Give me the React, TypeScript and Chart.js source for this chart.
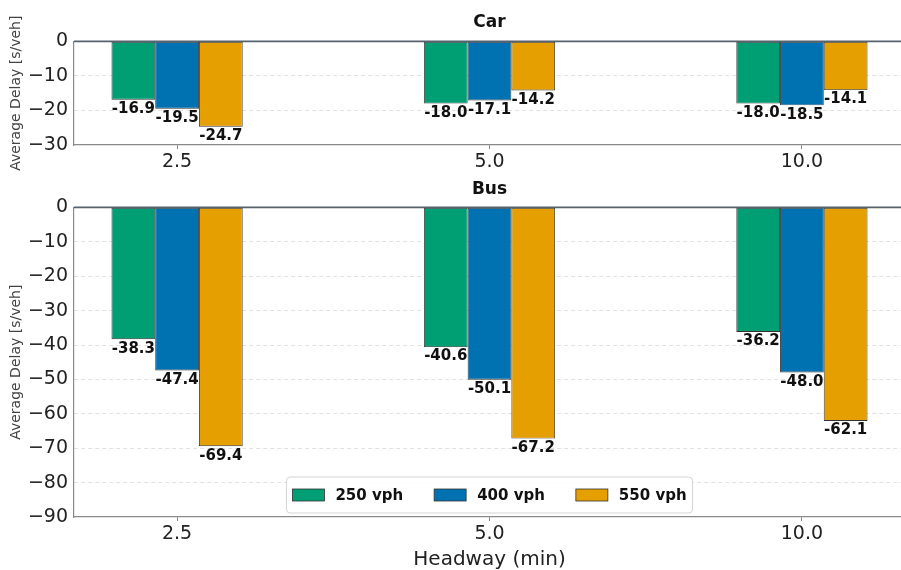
import React, { useEffect, useRef } from 'react';
import { Chart, registerables } from 'chart.js';

Chart.register(...registerables);
Chart.defaults.font.family = '"DejaVu Sans", sans-serif';

// ---------- data ----------
const headways = ['2.5', '5.0', '10.0'];
const seriesLabels = ['250 vph', '400 vph', '550 vph'];
const seriesColors = ['#009E73', '#0072B2', '#E69F00'];

const car250 = [-16.9, -18.0, -18.0];
const car400 = [-19.5, -17.1, -18.5];
const car550 = [-24.7, -14.2, -14.1];

const bus250 = [-38.3, -40.6, -36.2];
const bus400 = [-47.4, -50.1, -48.0];
const bus550 = [-69.4, -67.2, -62.1];

const carYMin = -30;
const busYMin = -90;
const yStep = 10;

// ---------- plugins ----------
const zeroLine = {
  id: 'zeroLine',
  afterDatasetsDraw(chart: any) {
    const { ctx, chartArea } = chart;
    const y = chart.scales.y.getPixelForValue(0);
    ctx.save();
    ctx.strokeStyle = '#56626d';
    ctx.lineWidth = 1.6;
    ctx.beginPath();
    ctx.moveTo(chartArea.left, y);
    ctx.lineTo(chartArea.right, y);
    ctx.stroke();
    ctx.restore();
  },
};

const valueLabels = {
  id: 'valueLabels',
  afterDatasetsDraw(chart: any) {
    const ctx = chart.ctx;
    ctx.save();
    ctx.font = 'bold 15px "DejaVu Sans"';
    ctx.fillStyle = '#111';
    ctx.textAlign = 'center';
    ctx.textBaseline = 'top';
    chart.data.datasets.forEach((ds: any, i: number) => {
      const meta = chart.getDatasetMeta(i);
      meta.data.forEach((bar: any, j: number) => {
        const v = ds.data[j].y as number;
        ctx.fillText(v.toFixed(1), bar.x, bar.y + 2);
      });
    });
    ctx.restore();
  },
};

const insideLegend = {
  id: 'insideLegend',
  afterDraw(chart: any) {
    const { ctx, chartArea } = chart;
    ctx.save();
    ctx.font = 'bold 15px "DejaVu Sans"';
    const sw = 32, sh = 12, gapT = 11, gapI = 31, pad = 6, h = 36;
    const items = chart.data.datasets.map((ds: any) => ({
      label: ds.label as string,
      color: ds.backgroundColor as string,
      w: ctx.measureText(ds.label).width,
    }));
    const total =
      items.reduce((s: number, it: any) => s + sw + gapT + it.w, 0) +
      gapI * (items.length - 1) +
      pad * 2;
    const x0 = (chartArea.left + chartArea.right) / 2 - total / 2;
    const y0 = chartArea.bottom - 4 - h;
    ctx.fillStyle = 'rgba(255,255,255,0.85)';
    ctx.strokeStyle = '#d4d4d4';
    ctx.lineWidth = 1;
    ctx.beginPath();
    ctx.roundRect(x0, y0, total, h, 4);
    ctx.fill();
    ctx.stroke();
    let x = x0 + pad;
    const cy = y0 + h / 2;
    items.forEach((it: any) => {
      ctx.fillStyle = it.color;
      ctx.fillRect(x, cy - sh / 2, sw, sh);
      ctx.strokeStyle = '#333';
      ctx.lineWidth = 0.8;
      ctx.strokeRect(x, cy - sh / 2, sw, sh);
      ctx.fillStyle = '#111';
      ctx.textAlign = 'left';
      ctx.textBaseline = 'middle';
      ctx.fillText(it.label, x + sw + gapT, cy + 1);
      x += sw + gapT + it.w + gapI;
    });
    ctx.restore();
  },
};

// ---------- config ----------
function makeConfig(
  title: string,
  series: number[][],
  yMin: number,
  titlePad: { top: number; bottom: number },
  xHeight: number,
  showXTitle: boolean,
  withLegend: boolean
): any {
  return {
    type: 'bar',
    data: {
      datasets: series.map((vals, i) => ({
        label: seriesLabels[i],
        data: vals.map((v, j) => ({ x: j, y: v })),
        backgroundColor: seriesColors[i],
        borderColor: '#333333',
        borderWidth: 0.9,
        borderSkipped: false,
        categoryPercentage: 0.42,
        barPercentage: 1.0,
      })),
    },
    options: {
      animation: false,
      responsive: false,
      devicePixelRatio: 1,
      layout: { padding: { left: 0, right: 4, top: 0, bottom: 0 } },
      plugins: {
        legend: { display: false },
        tooltip: { enabled: false },
        title: {
          display: true,
          text: title,
          fullSize: false,
          color: '#111',
          font: { size: 17, weight: 'bold' },
          padding: titlePad,
        },
      },
      scales: {
        x: {
          type: 'linear',
          min: -0.33,
          max: 2.33,
          offset: false,
          afterBuildTicks: (s: any) => {
            s.ticks = headways.map((_, i) => ({ value: i }));
          },
          ticks: {
            callback: (v: any) => headways[v] ?? '',
            font: { size: 19 },
            color: '#222',
            padding: 2,
            maxRotation: 0,
            autoSkip: false,
          },
          grid: {
            offset: false,
            drawOnChartArea: false,
            drawTicks: true,
            tickLength: 4,
            tickColor: '#888',
            tickWidth: 1,
          },
          border: { display: true, color: '#8a8a8a', width: 1.2 },
          title: showXTitle
            ? {
                display: true,
                text: 'Headway (min)',
                font: { size: 20 },
                color: '#222',
                padding: { top: 2, bottom: 0 },
              }
            : { display: false },
          afterFit: (s: any) => {
            s.height = xHeight;
          },
        },
        y: {
          min: yMin,
          max: 0,
          ticks: {
            stepSize: yStep,
            callback: (v: any) => (v < 0 ? '\u2212' + Math.abs(v) : String(v)),
            font: { size: 19 },
            color: '#222',
            padding: 6,
          },
          grid: {
            drawTicks: false,
            color: (c: any) =>
              c.tick && (c.tick.value === 0 || c.tick.value === yMin)
                ? 'rgba(0,0,0,0)'
                : '#d9d9d9',
            lineWidth: 0.8,
          },
          border: { display: true, color: '#8a8a8a', width: 1.2, dash: [4, 3] },
          title: {
            display: true,
            text: 'Average Delay [s/veh]',
            font: { size: 14 },
            color: '#444',
            padding: { top: 8, bottom: 0 },
          },
          afterFit: (s: any) => {
            s.width = 74;
          },
        },
      },
    },
    plugins: withLegend ? [zeroLine, valueLabels, insideLegend] : [zeroLine, valueLabels],
  };
}

export default function App() {
  const topRef = useRef<HTMLCanvasElement | null>(null);
  const botRef = useRef<HTMLCanvasElement | null>(null);

  useEffect(() => {
    document.body.style.margin = '0';
    document.body.style.overflow = 'hidden';
    const c1 = new Chart(
      topRef.current as HTMLCanvasElement,
      makeConfig('Car', [car250, car400, car550], carYMin, { top: 12, bottom: 9 }, 31, false, false)
    );
    const c2 = new Chart(
      botRef.current as HTMLCanvasElement,
      makeConfig('Bus', [bus250, bus400, bus550], busYMin, { top: 3, bottom: 8 }, 55, true, true)
    );
    return () => {
      c1.destroy();
      c2.destroy();
    };
  }, []);

  return (
    <div
      style={{
        position: 'fixed',
        left: 0,
        top: 0,
        width: 901,
        height: 570,
        overflow: 'hidden',
        background: '#fff',
      }}
    >
      <canvas
        ref={topRef}
        width={909}
        height={176}
        style={{ position: 'absolute', left: 0, top: 0, width: 909, height: 176 }}
      />
      <canvas
        ref={botRef}
        width={909}
        height={396}
        style={{ position: 'absolute', left: 0, top: 176, width: 909, height: 396 }}
      />
    </div>
  );
}
